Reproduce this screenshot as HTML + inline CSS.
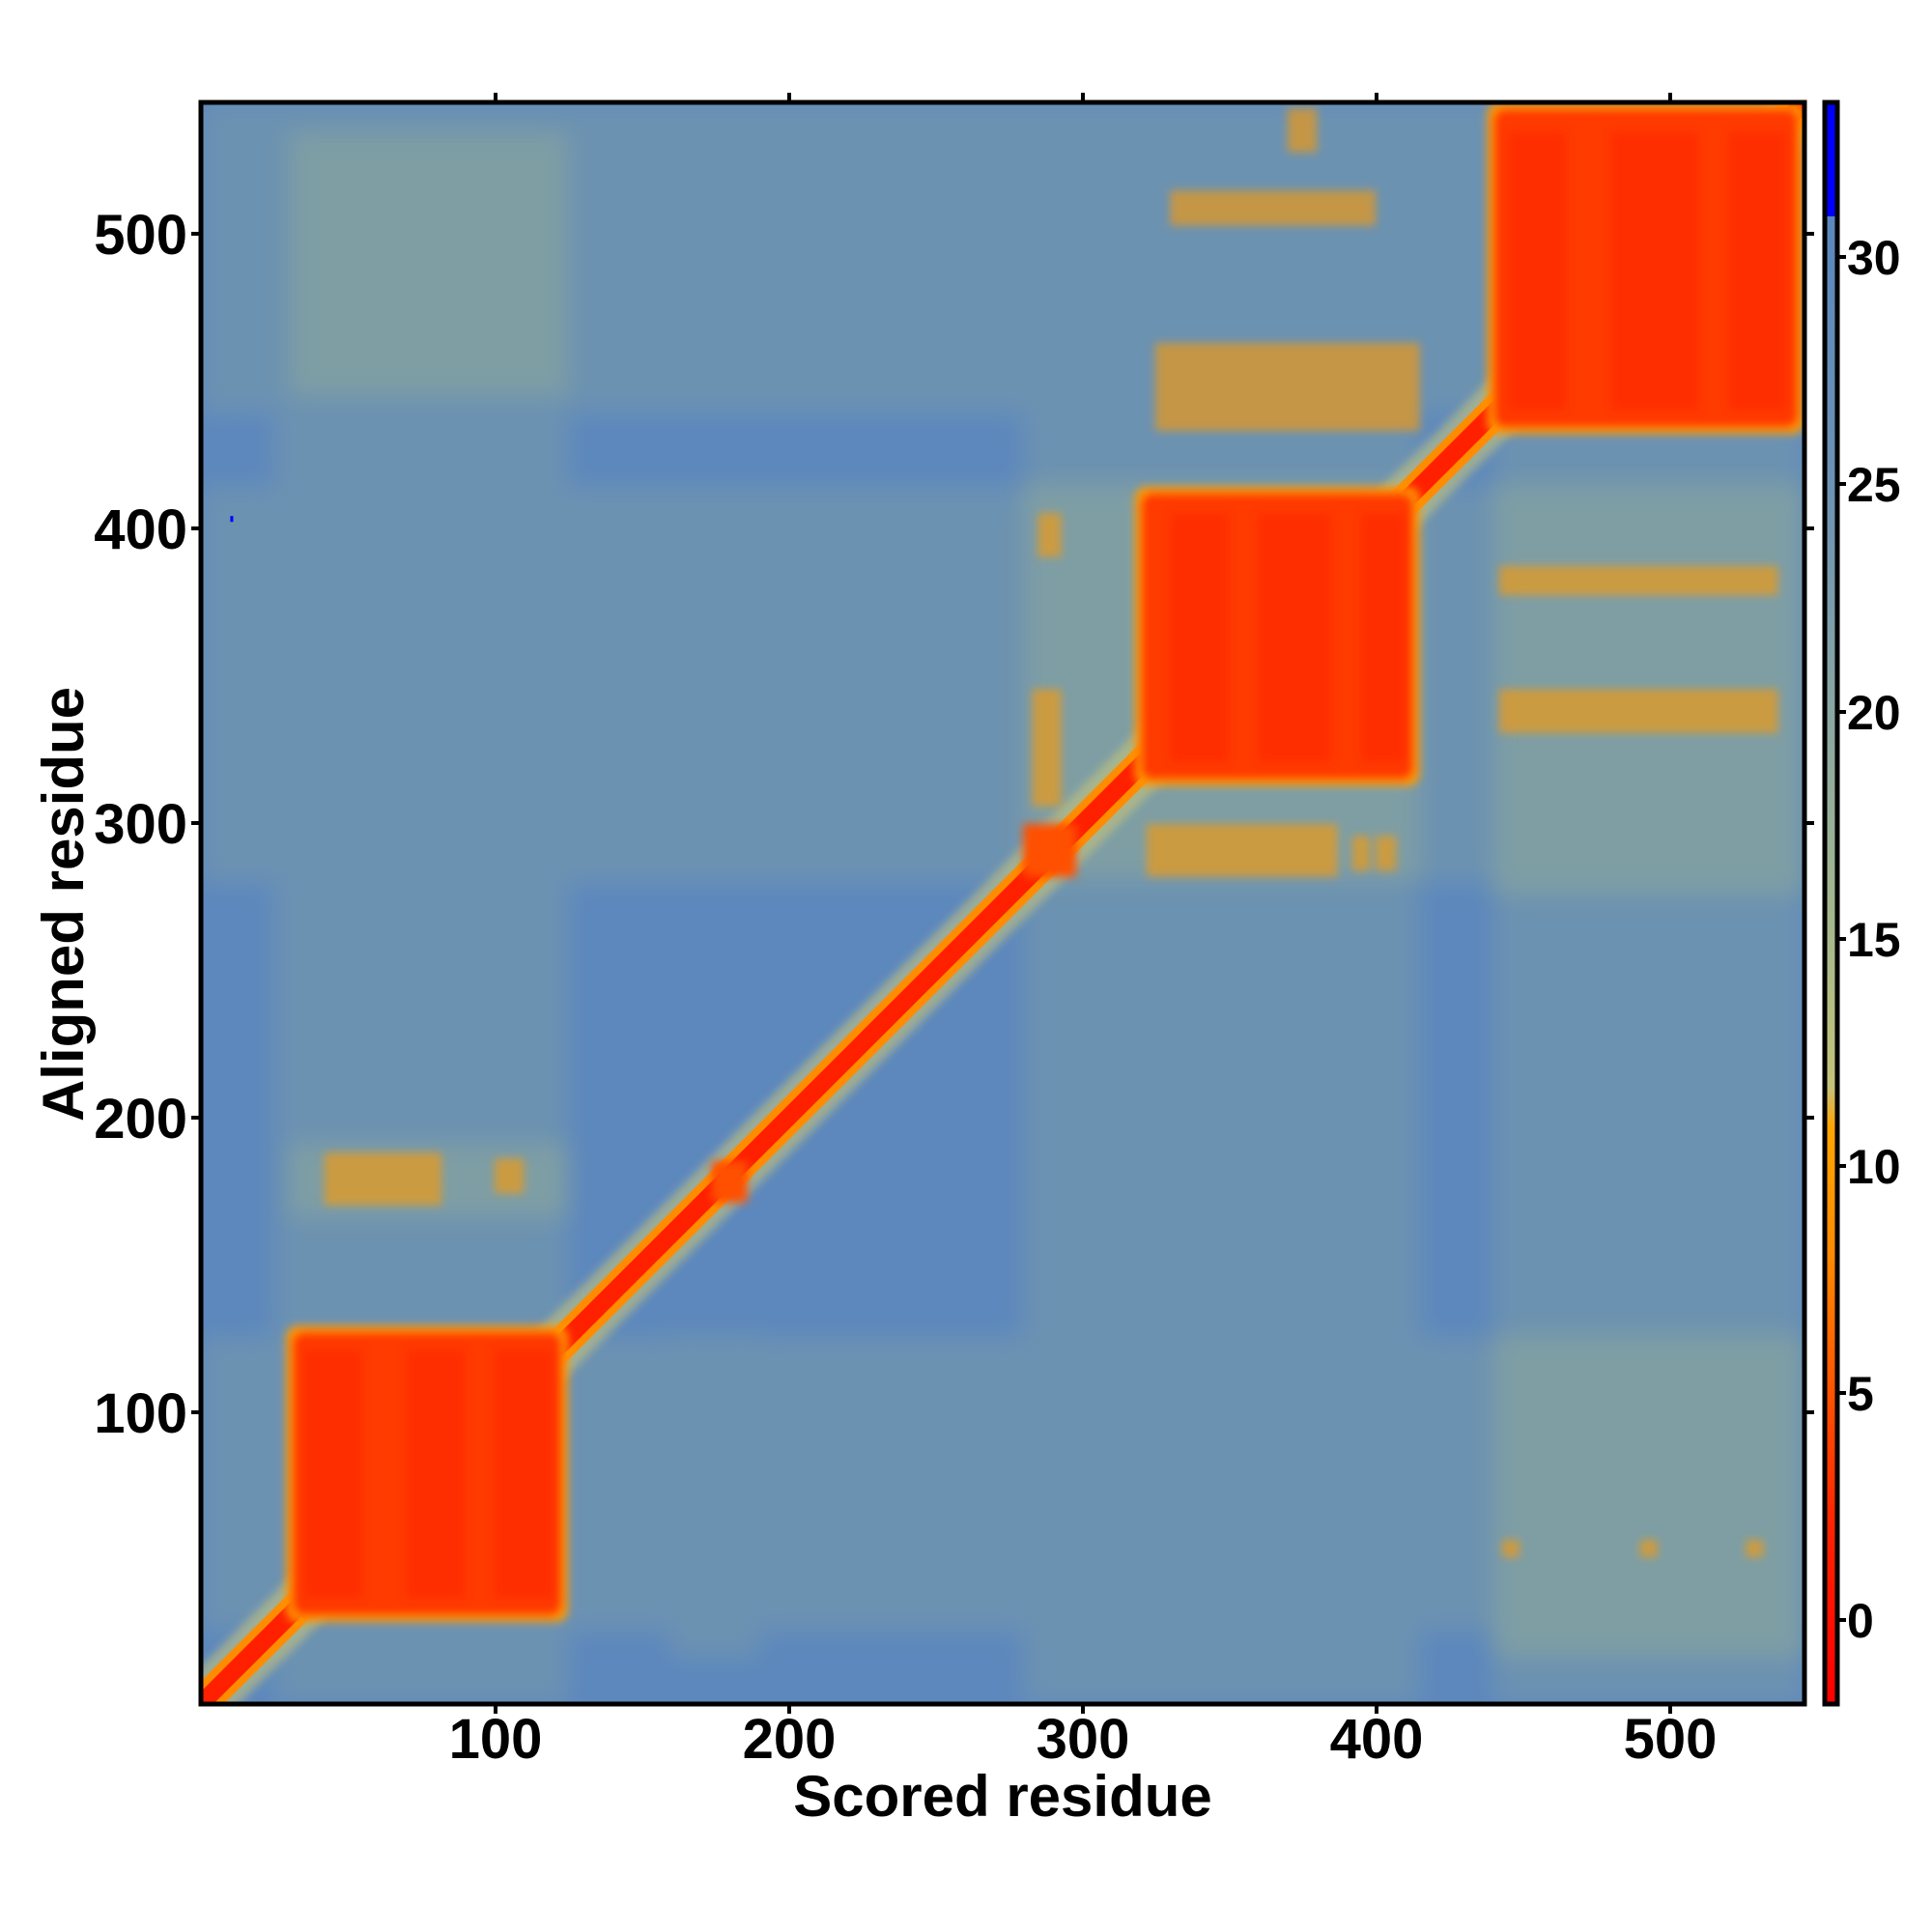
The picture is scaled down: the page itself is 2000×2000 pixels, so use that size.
<!DOCTYPE html>
<html><head><meta charset="utf-8"><style>
html,body{margin:0;padding:0;background:#fff;}
body{width:2000px;height:2000px;position:relative;overflow:hidden;font-family:"Liberation Sans",sans-serif;font-weight:bold;}
</style></head><body>
<svg width="2000" height="2000" style="position:absolute;left:0;top:0">
<defs>
<linearGradient id="cb" x1="0" y1="1" x2="0" y2="0">
<stop offset="0" stop-color="#ff0000"/>
<stop offset="0.11" stop-color="#ff2400"/>
<stop offset="0.19" stop-color="#ff5000"/>
<stop offset="0.28" stop-color="#ff8a00"/>
<stop offset="0.36" stop-color="#ffa500"/>
<stop offset="0.385" stop-color="#c5c27a"/>
<stop offset="0.48" stop-color="#a6b98c"/>
<stop offset="0.62" stop-color="#8aa6a2"/>
<stop offset="0.76" stop-color="#6c92b4"/>
<stop offset="0.93" stop-color="#5b87bd"/>
<stop offset="0.93" stop-color="#0000ff"/>
<stop offset="1" stop-color="#0000ff"/>
</linearGradient>
<filter id="bl" x="-10%" y="-10%" width="120%" height="120%"><feGaussianBlur stdDeviation="4"/></filter>
<filter id="bl2" x="-10%" y="-10%" width="120%" height="120%"><feGaussianBlur stdDeviation="1.5"/></filter>
</defs>
<svg x="208" y="106" width="1660" height="1658" viewBox="0 0 546 546" preserveAspectRatio="none">
<rect x="0" y="0" width="546" height="546" fill="#5d88bd"/>
<g opacity="0.18" fill="#b0c080" filter="url(#bl)">
<rect x="25" y="0" width="100" height="546"/>
<rect x="280" y="0" width="135" height="546"/>
<rect x="440" y="0" width="106" height="546"/>
<rect x="0" y="421" width="546" height="100"/>
<rect x="0" y="131" width="546" height="135"/>
<rect x="0" y="0" width="546" height="106"/>
<rect x="160" y="420" width="30" height="110"/>
</g>
<g opacity="0.22" fill="#c0c878" filter="url(#bl)">
<rect x="30" y="10" width="95" height="90"/>
<rect x="280" y="130" width="135" height="135"/>
<rect x="440" y="130" width="106" height="140"/>
<rect x="440" y="420" width="106" height="110"/>
<rect x="30" y="355" width="95" height="25"/>
</g>
<!-- diagonal -->
<line x1="0" y1="546" x2="546" y2="0" stroke="#c8c47a" stroke-width="18" opacity="0.6" filter="url(#bl2)"/>
<line x1="0" y1="546" x2="546" y2="0" stroke="#ff8c00" stroke-width="11"/>
<line x1="0" y1="546" x2="546" y2="0" stroke="#ff2000" stroke-width="6"/>
<!-- domain blocks -->
<g filter="url(#bl2)">
<rect x="29" y="417" width="96" height="101" rx="4" fill="#ff9a00"/>
<rect x="31" y="419" width="92" height="97" rx="4" fill="#ff3a00"/>
<rect x="318" y="131" width="97" height="102" rx="4" fill="#ff9a00"/>
<rect x="320" y="133" width="93" height="98" rx="4" fill="#ff3a00"/>
<rect x="438" y="0" width="108" height="113" rx="4" fill="#ff9a00"/>
<rect x="440" y="2" width="104" height="109" rx="4" fill="#ff3a00"/>
<rect x="280" y="246" width="18" height="18" fill="#ff5000"/>
<rect x="174" y="361" width="12" height="14" fill="#ff5000"/>
</g>
<g fill="#ff2000" opacity="0.5" filter="url(#bl2)">
<rect x="35" y="425" width="20" height="85"/><rect x="70" y="425" width="20" height="85"/><rect x="100" y="425" width="20" height="85"/>
<rect x="330" y="140" width="20" height="85"/><rect x="360" y="140" width="25" height="85"/><rect x="395" y="140" width="15" height="85"/>
<rect x="445" y="10" width="20" height="95"/><rect x="480" y="10" width="30" height="95"/><rect x="520" y="10" width="20" height="95"/>
</g>
<!-- off-diagonal orange patches -->
<g fill="#ff9a00" opacity="0.6" filter="url(#bl2)">
<rect x="322" y="246" width="65" height="18"/><rect x="392" y="250" width="6" height="12"/><rect x="400" y="250" width="7" height="12"/>
<rect x="283" y="200" width="10" height="40"/><rect x="285" y="140" width="8" height="15"/>
<rect x="325" y="82" width="90" height="30"/>
<rect x="330" y="30" width="70" height="12"/>
<rect x="370" y="2" width="10" height="15"/>
<rect x="442" y="200" width="95" height="15"/>
<rect x="442" y="158" width="95" height="10"/>
<rect x="42" y="358" width="40" height="18"/><rect x="100" y="360" width="10" height="12"/>
<rect x="443" y="490" width="6" height="6"/><rect x="490" y="490" width="6" height="6"/><rect x="526" y="490" width="6" height="6"/>
</g>
<rect x="10" y="141" width="1" height="2" fill="#0000ff"/>
</svg>
<rect x="208" y="106" width="1660" height="1658" fill="none" stroke="#000" stroke-width="5"/>
<rect x="1889" y="108" width="13" height="1654" fill="url(#cb)"/>
<rect x="1889" y="106" width="13" height="1658" fill="none" stroke="#000" stroke-width="5"/>
<g stroke="#000" stroke-width="4">
<line x1="513" y1="1766" x2="513" y2="1774"/><line x1="817" y1="1766" x2="817" y2="1774"/><line x1="1121" y1="1766" x2="1121" y2="1774"/><line x1="1425" y1="1766" x2="1425" y2="1774"/><line x1="1729" y1="1766" x2="1729" y2="1774"/>
<line x1="513" y1="96" x2="513" y2="104"/><line x1="817" y1="96" x2="817" y2="104"/><line x1="1121" y1="96" x2="1121" y2="104"/><line x1="1425" y1="96" x2="1425" y2="104"/><line x1="1729" y1="96" x2="1729" y2="104"/>
<line x1="198" y1="1462" x2="206" y2="1462"/><line x1="198" y1="1157" x2="206" y2="1157"/><line x1="198" y1="852" x2="206" y2="852"/><line x1="198" y1="547" x2="206" y2="547"/><line x1="198" y1="242" x2="206" y2="242"/>
<line x1="1870" y1="1462" x2="1878" y2="1462"/><line x1="1870" y1="1157" x2="1878" y2="1157"/><line x1="1870" y1="852" x2="1878" y2="852"/><line x1="1870" y1="547" x2="1878" y2="547"/><line x1="1870" y1="242" x2="1878" y2="242"/>
<line x1="1904" y1="1677" x2="1911" y2="1677"/><line x1="1904" y1="1442" x2="1911" y2="1442"/><line x1="1904" y1="1207" x2="1911" y2="1207"/><line x1="1904" y1="972" x2="1911" y2="972"/><line x1="1904" y1="737" x2="1911" y2="737"/><line x1="1904" y1="501" x2="1911" y2="501"/><line x1="1904" y1="266" x2="1911" y2="266"/>
</g>
<g font-family="Liberation Sans, sans-serif" font-weight="bold" font-size="58" fill="#000" text-anchor="middle">
<text x="513" y="1820">100</text><text x="817" y="1820">200</text><text x="1121" y="1820">300</text><text x="1425" y="1820">400</text><text x="1729" y="1820">500</text>
</g>
<g font-family="Liberation Sans, sans-serif" font-weight="bold" font-size="58" fill="#000" text-anchor="end">
<text x="194" y="1483">100</text><text x="194" y="1178">200</text><text x="194" y="873">300</text><text x="194" y="568">400</text><text x="194" y="263">500</text>
</g>
<g font-family="Liberation Sans, sans-serif" font-weight="bold" font-size="50" fill="#000" text-anchor="start">
<text x="1912" y="1695">0</text><text x="1912" y="1460">5</text><text x="1912" y="1225">10</text><text x="1912" y="990">15</text><text x="1912" y="755">20</text><text x="1912" y="519">25</text><text x="1912" y="284">30</text>
</g>
<text x="1038" y="1880" font-family="Liberation Sans, sans-serif" font-weight="bold" font-size="60" text-anchor="middle">Scored residue</text>
<text transform="translate(86,936) rotate(-90)" font-family="Liberation Sans, sans-serif" font-weight="bold" font-size="60" text-anchor="middle">Aligned residue</text>
</svg>
</body></html>
